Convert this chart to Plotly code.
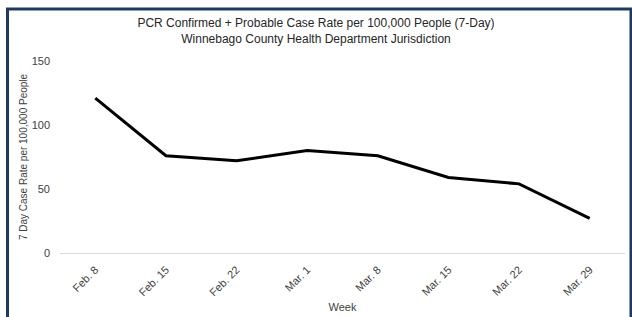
import plotly.graph_objects as go

weeks = ["Feb. 8", "Feb. 15", "Feb. 22", "Mar. 1", "Mar. 8", "Mar. 15", "Mar. 22", "Mar. 29"]
case_rate = [121, 76, 72, 80, 76, 59, 54, 27]
y_ticks = [0, 50, 100, 150]

FONT = "Liberation Sans"

fig = go.Figure()
fig.add_trace(go.Scatter(
    x=weeks, y=case_rate, mode="lines",
    line=dict(color="#000000", width=3),
    hoverinfo="x+y",
))

fig.update_layout(
    width=632, height=317,
    margin=dict(l=60, r=7, t=61, b=64),
    paper_bgcolor="white", plot_bgcolor="white",
    font=dict(family=FONT, color="#404040", size=10),
    showlegend=False,
    title=dict(
        text="PCR Confirmed + Probable Case Rate per 100,000 People (7-Day)<br>Winnebago County Health Department Jurisdiction",
        x=0.5, xanchor="center", y=0.914, yanchor="top",
        font=dict(family=FONT, size=12, color="#262626"),
    ),
    xaxis=dict(
        type="category", tickangle=-45, showgrid=False,
        showline=True, linecolor="#D9D9D9", linewidth=1,
        ticks="", tickfont=dict(size=11, color="#404040"),
        ticklabelstandoff=5, automargin=False,
        title=dict(text="Week", font=dict(size=11, color="#404040"), standoff=5),
        range=[-0.5, 7.5], fixedrange=True,
    ),
    yaxis=dict(
        range=[0, 150], tickvals=y_ticks, showgrid=False, zeroline=False,
        showline=False, ticks="", tickfont=dict(size=11, color="#404040"),
        ticklabelstandoff=9, automargin=False,
        title=dict(text="7 Day Case Rate per 100,000 People", font=dict(size=10, color="#404040"), standoff=2),
        fixedrange=True,
    ),
)

# dark navy frame around the chart (bottom edge off-canvas)
fig.add_shape(type="rect", xref="paper", yref="paper",
              x0=-0.0929, x1=1.0106, y0=-0.45, y1=1.2708,
              line=dict(color="#1F3864", width=3), fillcolor="rgba(0,0,0,0)", layer="above")

fig.write_html("out.html", config={"displayModeBar": False},
               post_script="document.body.style.margin='0px';")
